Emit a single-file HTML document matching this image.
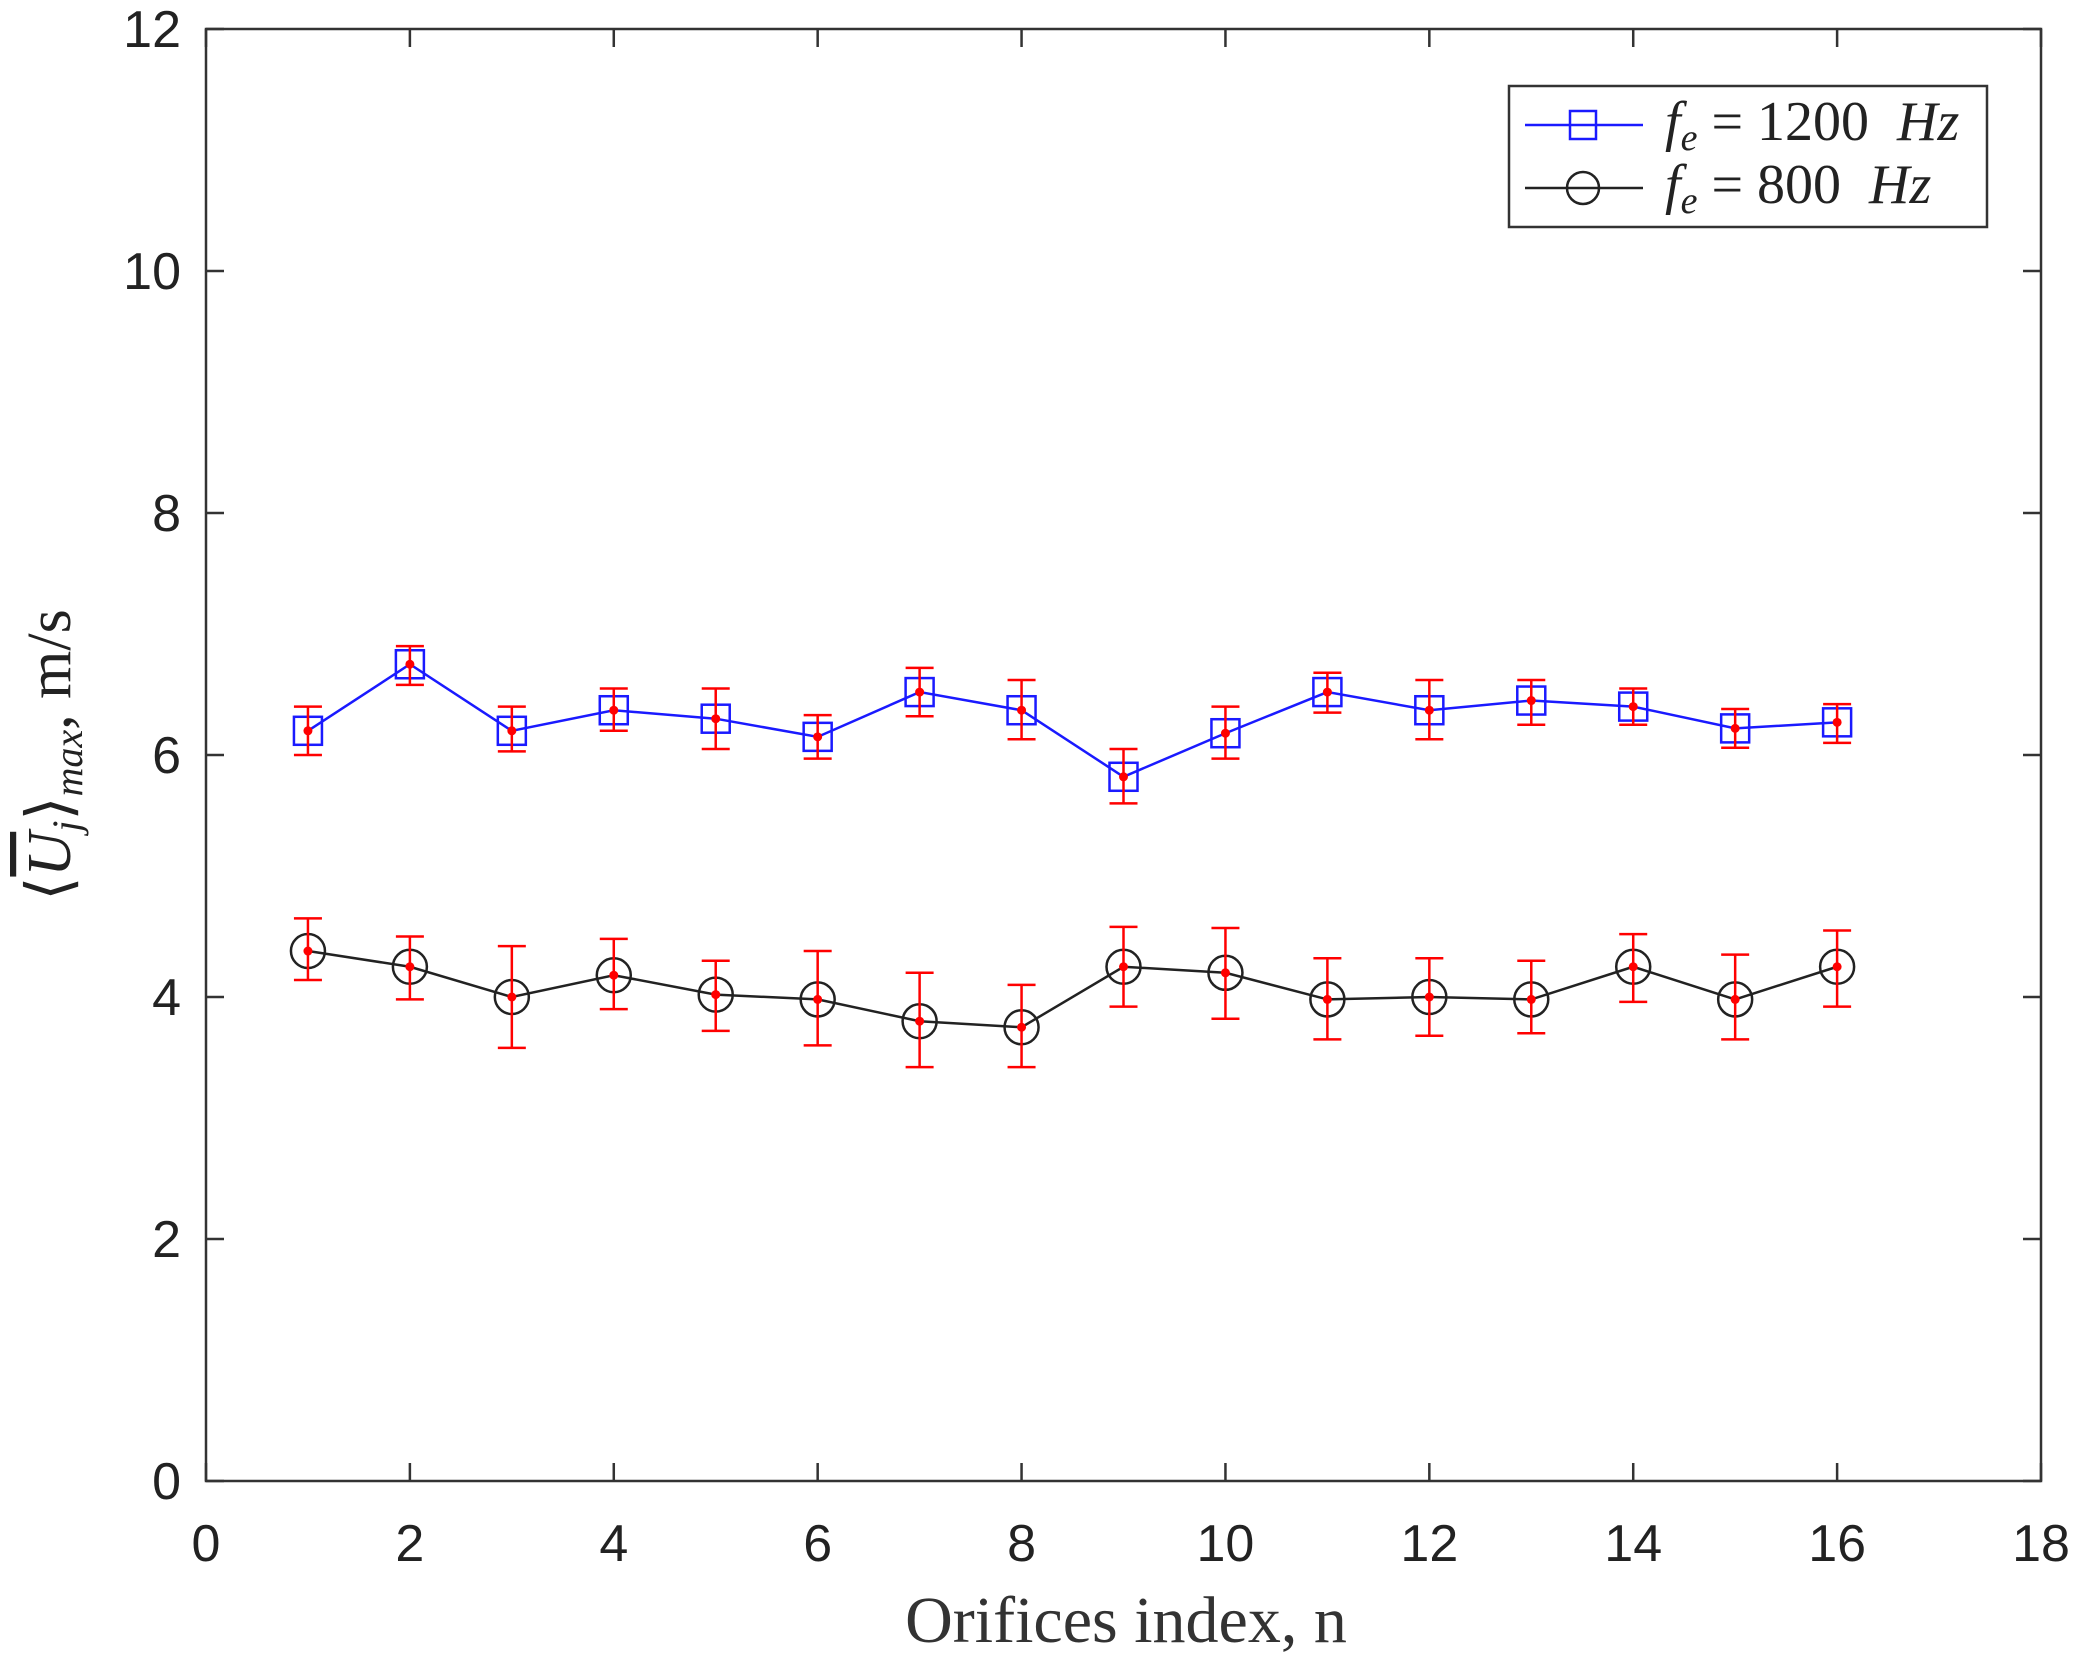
<!DOCTYPE html>
<html><head><meta charset="utf-8"><style>body{margin:0;background:#fff}svg{display:block}</style></head>
<body>
<svg id="s" width="2081" height="1666" xmlns="http://www.w3.org/2000/svg" font-family="Liberation Sans, sans-serif"></svg>
<script>
const L=206,R=2041,T=29,B=1481;
const X=v=>L+(R-L)*v/18, Y=v=>B-(B-T)*v/12;
let h='<rect x="'+L+'" y="'+T+'" width="'+(R-L)+'" height="'+(B-T)+'" fill="none" stroke="#333" stroke-width="2.5"/>';
for(let i=0;i<=18;i+=2){const x=X(i);h+=`<line x1="${x}" y1="${B}" x2="${x}" y2="${B-18}" stroke="#333" stroke-width="2.5"/><line x1="${x}" y1="${T}" x2="${x}" y2="${T+18}" stroke="#333" stroke-width="2.5"/><text x="${x}" y="${B+80}" font-size="52" text-anchor="middle" fill="#222">${i}</text>`;}
for(let i=0;i<=12;i+=2){const y=Y(i);h+=`<line x1="${L}" y1="${y}" x2="${L+18}" y2="${y}" stroke="#333" stroke-width="2.5"/><line x1="${R}" y1="${y}" x2="${R-18}" y2="${y}" stroke="#333" stroke-width="2.5"/><text x="${L-25}" y="${y+18}" font-size="52" text-anchor="end" fill="#222">${i}</text>`;}
const A=[[6.2,6.0,6.4],[6.75,6.58,6.9],[6.2,6.03,6.4],[6.37,6.2,6.55],[6.3,6.05,6.55],[6.15,5.97,6.33],[6.52,6.32,6.72],[6.37,6.13,6.62],[5.82,5.6,6.05],[6.18,5.97,6.4],[6.52,6.35,6.68],[6.37,6.13,6.62],[6.45,6.25,6.62],[6.4,6.25,6.55],[6.22,6.06,6.38],[6.27,6.1,6.42]];
const C=[[4.38,4.14,4.65],[4.25,3.98,4.5],[4.0,3.58,4.42],[4.18,3.9,4.48],[4.02,3.72,4.3],[3.98,3.6,4.38],[3.8,3.42,4.2],[3.75,3.42,4.1],[4.25,3.92,4.58],[4.2,3.82,4.57],[3.98,3.65,4.32],[4.0,3.68,4.32],[3.98,3.7,4.3],[4.25,3.96,4.52],[3.98,3.65,4.35],[4.25,3.92,4.55]];
function series(D,col,mk){let p=D.map((d,i)=>X(i+1)+','+Y(d[0])).join(' ');
h+=`<polyline points="${p}" fill="none" stroke="${col}" stroke-width="2.5"/>`;
D.forEach((d,i)=>{const x=X(i+1),y=Y(d[0]);
if(mk=='s')h+=`<rect x="${x-14}" y="${y-14}" width="28" height="28" fill="none" stroke="${col}" stroke-width="2.5"/>`;
else h+=`<circle cx="${x}" cy="${y}" r="17" fill="none" stroke="${col}" stroke-width="2.5"/>`;});
D.forEach((d,i)=>{const x=X(i+1),y1=Y(d[1]),y2=Y(d[2]);
h+=`<line x1="${x}" y1="${y1}" x2="${x}" y2="${y2}" stroke="#f00" stroke-width="2.5"/><line x1="${x-14}" y1="${y1}" x2="${x+14}" y2="${y1}" stroke="#f00" stroke-width="2.5"/><line x1="${x-14}" y1="${y2}" x2="${x+14}" y2="${y2}" stroke="#f00" stroke-width="2.5"/><circle cx="${x}" cy="${Y(d[0])}" r="4.5" fill="#f00"/>`;});}
series(A,'#1a1aff','s');series(C,'#222','c');
h+=`<rect x="1509" y="86" width="478" height="141" fill="#fff" stroke="#333" stroke-width="2.5"/>
<line x1="1525" y1="125" x2="1643" y2="125" stroke="#1a1aff" stroke-width="2.5"/><rect x="1570" y="111" width="26" height="28" fill="none" stroke="#1a1aff" stroke-width="2.5"/>
<line x1="1525" y1="188" x2="1643" y2="188" stroke="#222" stroke-width="2.5"/><circle cx="1583" cy="188" r="16" fill="none" stroke="#222" stroke-width="2.5"/>
<text x="1665" y="140" font-family="Liberation Serif, serif" font-size="56" fill="#222"><tspan font-style="italic">f</tspan><tspan font-style="italic" font-size="38" dy="10">e</tspan><tspan dy="-10" xml:space="preserve"> = 1200  </tspan><tspan font-style="italic">Hz</tspan></text>
<text x="1665" y="203" font-family="Liberation Serif, serif" font-size="56" fill="#222"><tspan font-style="italic">f</tspan><tspan font-style="italic" font-size="38" dy="10">e</tspan><tspan dy="-10" xml:space="preserve"> = 800  </tspan><tspan font-style="italic">Hz</tspan></text>
<text x="1126" y="1642" font-family="Liberation Serif, serif" font-size="66" text-anchor="middle" fill="#333">Orifices index, n</text>
<text transform="translate(70,755) rotate(-90)" font-family="Liberation Serif, serif" font-size="62" text-anchor="middle" fill="#222">⟨<tspan font-style="italic" text-decoration="overline">U</tspan><tspan font-style="italic" font-size="40" dy="10">j</tspan><tspan dy="-10">⟩</tspan><tspan font-style="italic" font-size="40" dy="12">max</tspan><tspan dy="-12">, m/s</tspan></text>`;
document.getElementById('s').innerHTML=h;
</script>
</body></html>
